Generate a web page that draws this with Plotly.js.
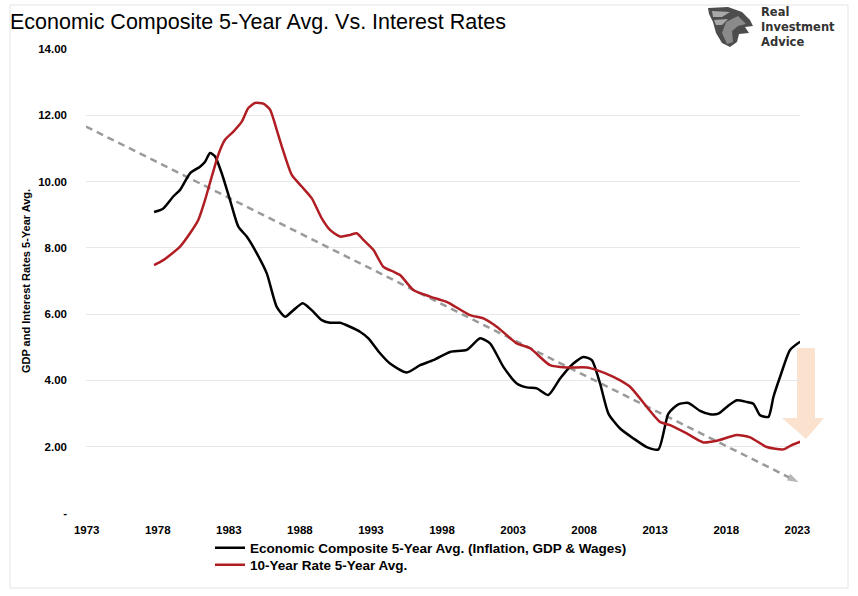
<!DOCTYPE html>
<html>
<head>
<meta charset="utf-8">
<script src="https://cdn.plot.ly/plotly-3.0.1.min.js"></script>
<style>
html,body{margin:0;padding:0;background:#fff;}
#chart{width:858px;height:596px;}
</style>
</head>
<body>
<div id="chart"></div>
<script>
// ---- Data ----
const compYears = [1977.74,1978.39,1979.09,1979.57,1980.27,1980.97,1981.33,1981.68,1982.03,1982.50,1983.08,1983.67,1984.26,1984.96,1985.67,1986.37,1986.96,1987.54,1988.20,1988.83,1989.54,1990.12,1990.83,1991.53,1992.23,1992.82,1993.64,1994.34,1995.52,1996.46,1997.39,1998.57,1999.74,2000.68,2001.38,2002.32,2003.26,2003.96,2004.67,2005.48,2006.31,2007.24,2007.95,2008.54,2009.12,2009.71,2010.53,2011.47,2012.41,2013.23,2013.93,2014.63,2015.34,2016.16,2016.86,2017.45,2018.04,2018.74,2019.45,2019.91,2020.38,2020.97,2021.32,2021.79,2022.49,2023.20];
const compValues = [9.08,9.19,9.55,9.75,10.25,10.45,10.60,10.86,10.76,10.25,9.45,8.64,8.34,7.84,7.23,6.22,5.92,6.12,6.33,6.12,5.82,5.74,5.74,5.62,5.47,5.27,4.82,4.51,4.24,4.46,4.61,4.86,4.92,5.27,5.12,4.41,3.91,3.79,3.76,3.56,4.06,4.51,4.71,4.61,3.91,3.00,2.55,2.25,1.99,1.92,3.00,3.28,3.32,3.08,2.98,3.00,3.20,3.40,3.35,3.30,2.95,2.90,3.50,4.11,4.92,5.17];

const rateYears = [1977.74,1978.39,1979.57,1980.27,1980.85,1981.33,1981.80,1982.26,1982.73,1983.32,1983.91,1984.37,1984.84,1985.43,1985.90,1986.37,1986.84,1987.43,1988.13,1988.83,1989.54,1990.12,1990.83,1991.53,1992.00,1992.47,1993.17,1993.87,1994.58,1995.05,1995.98,1997.16,1998.33,1999.97,2000.91,2001.85,2003.26,2004.20,2005.60,2006.78,2008.19,2008.89,2010.06,2011.23,2012.41,2013.34,2014.05,2015.22,2016.39,2017.34,2018.74,2019.68,2020.85,2022.02,2022.61,2023.20];
const rateValues = [7.48,7.63,8.04,8.44,8.84,9.45,10.15,10.81,11.26,11.51,11.81,12.22,12.37,12.35,12.17,11.56,10.91,10.20,9.85,9.50,8.89,8.54,8.34,8.39,8.44,8.24,7.94,7.43,7.28,7.18,6.73,6.53,6.37,5.97,5.87,5.62,5.12,4.97,4.46,4.39,4.39,4.31,4.11,3.81,3.20,2.75,2.65,2.40,2.13,2.18,2.35,2.28,1.99,1.92,2.05,2.15];

const trendYears = [1972.95, 2023.1];
const trendValues = [11.66, 0.93];

const xTickVals = [1973,1978,1983,1988,1993,1998,2003,2008,2013,2018,2023];
const xTickText = ['1973','1978','1983','1988','1993','1998','2003','2008','2013','2018','2023'];
const yTickVals = [0,2,4,6,8,10,12,14];
const yTickText = ['-','2.00','4.00','6.00','8.00','10.00','12.00','14.00'];

const seriesNames = ['Economic Composite 5-Year Avg. (Inflation, GDP & Wages)', '10-Year Rate 5-Year Avg.'];

// ---- Layout helpers (pixel -> paper) ----
const W = 858, H = 596;
const L = 86, R = 58, T = 49, B = 83;
const PW = W - L - R, PH = H - T - B;
const px = x => (x - L) / PW;
const py = y => (H - B - y) / PH;

const FONT = 'Liberation Sans, Arial, sans-serif';

const traces = [
  {
    x: trendYears, y: trendValues, mode: 'lines+markers', type: 'scatter',
    line: {color: '#9a9a9a', width: 2.5, dash: '7px,5px'},
    marker: {symbol: ['circle', 'arrow'], size: [0, 12], angleref: 'previous', color: '#9a9a9a', line: {width: 0}},
    showlegend: false, hoverinfo: 'skip'
  },
  {
    x: compYears, y: compValues, mode: 'lines', type: 'scatter', name: seriesNames[0], legend: 'legend',
    line: {color: '#000000', width: 2.5, shape: 'spline', smoothing: 0.6}
  },
  {
    x: rateYears, y: rateValues, mode: 'lines', type: 'scatter', name: seriesNames[1], legend: 'legend2',
    line: {color: '#B01E23', width: 2.5, shape: 'spline', smoothing: 0.6}
  }
];

// peach down arrow (decoration)
const aL = 782, aR = 824, sL = 797, sR = 815, aTop = 348, aNeck = 418, aTip = 439, aTipX = 806;
const arrowPath = `M${px(sL)},${py(aTop)} L${px(sR)},${py(aTop)} L${px(sR)},${py(aNeck)} L${px(aR)},${py(aNeck)} L${px(aTipX)},${py(aTip)} L${px(aL)},${py(aNeck)} L${px(sL)},${py(aNeck)} Z`;

// simple eagle-like logo mark
const toPath = pts => 'M' + pts.map(p => `${px(p[0])},${py(p[1])}`).join(' L') + ' Z';
const eagleOuter = [[708,8],[728,7],[742,12],[750,20],[753,26],[745,27],[749,33],[739,34],[737,42],[730,47],[722,43],[716,33],[713,22],[709,14]];
const eagleFeather1 = [[712,11],[730,12],[722,17],[713,17]];
const eagleFeather2 = [[714,20],[728,19],[722,25],[716,25]];
const eagleInner = [[726,22],[738,16],[746,24],[738,26],[732,31],[733,42],[727,44],[722,33]];

const legendFont = {family: FONT, size: 13.5, color: '#000', weight: 'bold'};

const layout = {
  width: W, height: H,
  margin: {l: L, r: R, t: T, b: B},
  paper_bgcolor: '#ffffff', plot_bgcolor: '#ffffff',
  title: {
    text: 'Economic Composite 5-Year Avg. Vs. Interest Rates',
    font: {family: FONT, size: 21.5, color: '#000'},
    xref: 'container', yref: 'container', x: 10 / W, xanchor: 'left', y: 1 - 21 / H, yanchor: 'middle'
  },
  xaxis: {
    range: [1972.95, 2023.19],
    tickvals: xTickVals, ticktext: xTickText,
    showgrid: false, zeroline: false, showline: false, ticks: '',
    tickfont: {family: FONT, size: 11.5, color: '#000', weight: 'bold'},
    ticklabelstandoff: 8
  },
  yaxis: {
    range: [0, 14],
    tickvals: yTickVals, ticktext: yTickText,
    showgrid: true, gridcolor: '#e8e8e8', gridwidth: 1, zeroline: false, showline: false, ticks: '',
    tickfont: {family: FONT, size: 11.5, color: '#000', weight: 'bold'},
    ticklabelstandoff: 18,
    title: {text: 'GDP and Interest Rates 5-Year Avg.', font: {family: FONT, size: 11, color: '#000', weight: 'bold'}, standoff: 5}
  },
  showlegend: true,
  legend: {
    orientation: 'v', x: px(210), xanchor: 'left', y: py(548), yanchor: 'middle',
    font: legendFont, bgcolor: 'rgba(0,0,0,0)', borderwidth: 0
  },
  legend2: {
    orientation: 'v', x: px(210), xanchor: 'left', y: py(565), yanchor: 'middle',
    font: legendFont, bgcolor: 'rgba(0,0,0,0)', borderwidth: 0
  },
  shapes: [
    {type: 'rect', xref: 'paper', yref: 'paper', x0: px(10), x1: px(848), y0: py(5), y1: py(588),
     line: {color: '#e4e4e4', width: 1}, fillcolor: 'rgba(0,0,0,0)', layer: 'below'},
    {type: 'path', xref: 'paper', yref: 'paper', path: arrowPath, fillcolor: '#FBE2CE', line: {width: 0}, layer: 'below'},
    {type: 'path', xref: 'paper', yref: 'paper', path: toPath(eagleOuter), fillcolor: '#4d4d4d', line: {width: 0}},
    {type: 'path', xref: 'paper', yref: 'paper', path: toPath(eagleFeather1), fillcolor: '#a8a8a8', line: {width: 0}},
    {type: 'path', xref: 'paper', yref: 'paper', path: toPath(eagleFeather2), fillcolor: '#a8a8a8', line: {width: 0}},
    {type: 'path', xref: 'paper', yref: 'paper', path: toPath(eagleInner), fillcolor: '#8a8a8a', line: {width: 0}}
  ],
  annotations: [
    {xref: 'paper', yref: 'paper', x: px(759), y: py(27), xanchor: 'left', yanchor: 'middle', showarrow: false, align: 'left',
     text: 'Real<br>Investment<br>Advice', font: {family: 'DejaVu Sans, sans-serif', size: 11.5, color: '#333', weight: 'bold'}}
  ]
};

Plotly.newPlot('chart', traces, layout, {displayModeBar: false, staticPlot: true});
</script>
</body>
</html>
